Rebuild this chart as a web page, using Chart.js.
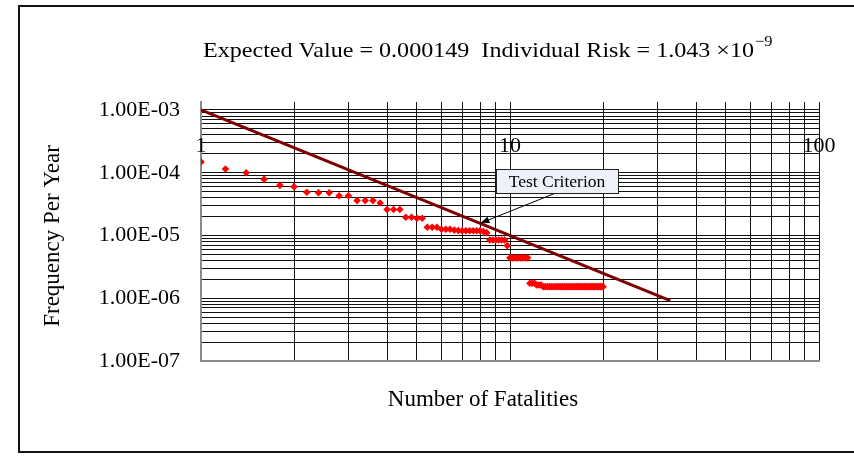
<!DOCTYPE html>
<html>
<head>
<meta charset="utf-8">
<script src="https://cdn.jsdelivr.net/npm/chart.js@4/dist/chart.umd.min.js"></script>
<style>
  html, body { margin: 0; padding: 0; background: #fff; }
  #wrap { width: 854px; height: 457px; }
</style>
</head>
<body>
<div id="wrap"><canvas id="c" width="854" height="457"></canvas></div>
<script>
// number of fatalities (N) for each plotted point
const fatalities = [
  1, 1.2, 1.4, 1.6, 1.8, 2, 2.2, 2.4, 2.6, 2.8,
  3, 3.2, 3.4, 3.6, 3.8, 4, 4.2, 4.4, 4.6, 4.8,
  5, 5.2, 5.4, 5.6, 5.8, 6, 6.2, 6.4, 6.6, 6.8,
  7, 7.2, 7.4, 7.6, 7.8, 8, 8.2, 8.4, 8.6, 8.8,
  9, 9.2, 9.4, 9.6, 9.8, 10, 10.2, 10.4, 10.6, 10.8,
  11, 11.2, 11.4, 11.6, 11.8, 12, 12.2, 12.4, 12.6, 12.8,
  13, 13.2, 13.4, 13.6, 13.8, 14, 14.2, 14.4, 14.6, 14.8,
  15, 15.2, 15.4, 15.6, 15.8, 16, 16.2, 16.4, 16.6, 16.8,
  17, 17.2, 17.4, 17.6, 17.8, 18, 18.2, 18.4, 18.6, 18.8,
  19, 19.2, 19.4, 19.6, 19.8, 20
];

// cumulative frequency per year (F)
const frequency = [
  1.49e-4, 1.15e-4, 1.0e-4, 7.9e-5, 6.3e-5, 6.0e-5, 4.9e-5, 4.8e-5, 4.8e-5, 4.3e-5,
  4.3e-5, 3.6e-5, 3.6e-5, 3.6e-5, 3.3e-5, 2.6e-5, 2.6e-5, 2.6e-5, 1.95e-5, 1.95e-5,
  1.88e-5, 1.88e-5, 1.35e-5, 1.35e-5, 1.35e-5, 1.26e-5, 1.26e-5, 1.26e-5, 1.22e-5, 1.2e-5,
  1.19e-5, 1.19e-5, 1.19e-5, 1.19e-5, 1.19e-5, 1.19e-5, 1.16e-5, 1.11e-5, 8.5e-6, 8.5e-6,
  8.5e-6, 8.5e-6, 8.5e-6, 8.5e-6, 6.9e-6, 4.4e-6, 4.4e-6, 4.4e-6, 4.4e-6, 4.4e-6,
  4.4e-6, 4.4e-6, 4.4e-6, 1.73e-6, 1.73e-6, 1.73e-6, 1.63e-6, 1.63e-6, 1.63e-6, 1.53e-6,
  1.53e-6, 1.53e-6, 1.53e-6, 1.53e-6, 1.53e-6, 1.53e-6, 1.53e-6, 1.53e-6, 1.53e-6, 1.53e-6,
  1.53e-6, 1.53e-6, 1.53e-6, 1.53e-6, 1.53e-6, 1.53e-6, 1.53e-6, 1.53e-6, 1.53e-6, 1.53e-6,
  1.53e-6, 1.53e-6, 1.53e-6, 1.53e-6, 1.53e-6, 1.53e-6, 1.53e-6, 1.53e-6, 1.53e-6, 1.53e-6,
  1.53e-6, 1.53e-6, 1.53e-6, 1.53e-6, 1.53e-6, 1.53e-6
];

// test criterion line end points
const criterionN = [1, 33];
const criterionF = [1e-3, 9.2e-7];

const xTickValues = [1, 10, 100];
const xTickLabels = ['1', '10', '100'];
const yTickValues = [1e-7, 1e-6, 1e-5, 1e-4, 1e-3];
const yTickLabels = ['1.00E-07', '1.00E-06', '1.00E-05', '1.00E-04', '1.00E-03'];

const titleText = 'Expected Value = 0.000149  Individual Risk = 1.043 \u00d710';
const titleSup = '\u22129';
const xTitle = 'Number of Fatalities';
const yTitle = 'Frequency Per Year';
const calloutText = 'Test Criterion';
const calloutBox = { x: 14.2, y: 7.3e-5 };
const calloutTip = { x: 8, y: 1.5625e-5 };

const SERIF = '"Liberation Serif", "Times New Roman", serif';

function logGrid(from, to) {
  const out = [];
  for (let d = from; d < to * 0.999; d *= 10) {
    for (let k = 1; k < 10; k++) out.push({ value: d * k });
  }
  out.push({ value: to });
  return out;
}

const frame = {
  id: 'frame',
  beforeDraw(chart) {
    const ctx = chart.ctx;
    ctx.save();
    ctx.fillStyle = '#fff';
    ctx.fillRect(0, 0, chart.width, chart.height);
    ctx.strokeStyle = '#111';
    ctx.lineWidth = 2;
    ctx.strokeRect(19, 6, 900, 446);
    ctx.restore();
  },
  afterDraw(chart) {
    const ctx = chart.ctx;
    const xs = chart.scales.x, ys = chart.scales.y;
    ctx.save();
    ctx.fillStyle = '#000';

    // title, stretched a little wider like the original, with superscript exponent
    ctx.font = '22px ' + SERIF;
    ctx.textBaseline = 'alphabetic';
    ctx.textAlign = 'left';
    const w = ctx.measureText(titleText).width;
    const sx = 551 / w;
    ctx.save();
    ctx.translate(203, 57);
    ctx.scale(sx, 1);
    ctx.fillText(titleText, 0, 0);
    ctx.font = '15px ' + SERIF;
    ctx.fillText(titleSup, w + 1, -11);
    ctx.restore();

    // axis titles
    ctx.font = '23px ' + SERIF;
    ctx.textAlign = 'center';
    ctx.textBaseline = 'middle';
    ctx.fillText(xTitle, 483, 400);
    ctx.save();
    ctx.translate(53, 236);
    ctx.rotate(-Math.PI / 2);
    ctx.fillText(yTitle, 0, 0);
    ctx.restore();

    // x tick labels sit inside the plot, Excel style
    ctx.font = '22px ' + SERIF;
    xTickValues.forEach((v, i) => {
      ctx.fillText(xTickLabels[i], xs.getPixelForValue(v), chart.chartArea.top + 44);
    });

    // callout
    const bx = xs.getPixelForValue(calloutBox.x), by = ys.getPixelForValue(calloutBox.y);
    const tx = xs.getPixelForValue(calloutTip.x), ty = ys.getPixelForValue(calloutTip.y);
    const bw = 122, bh = 24;
    const ax = bx - 2, ay = by + bh / 2;
    ctx.strokeStyle = '#000';
    ctx.lineWidth = 1;
    const ang = Math.atan2(ty - ay, tx - ax);
    const hl = 10;
    ctx.beginPath();
    ctx.moveTo(ax, ay);
    ctx.lineTo(tx - hl * Math.cos(ang) * 0.8, ty - hl * Math.sin(ang) * 0.8);
    ctx.stroke();
    ctx.beginPath();
    ctx.moveTo(tx, ty);
    ctx.lineTo(tx - hl * Math.cos(ang - 0.35), ty - hl * Math.sin(ang - 0.35));
    ctx.lineTo(tx - hl * Math.cos(ang + 0.35), ty - hl * Math.sin(ang + 0.35));
    ctx.closePath();
    ctx.fill();

    ctx.fillStyle = '#eef1f9';
    ctx.fillRect(bx - bw / 2, by - bh / 2, bw, bh);
    ctx.strokeStyle = '#222';
    ctx.strokeRect(Math.round(bx - bw / 2) + 0.5, Math.round(by - bh / 2) + 0.5, bw, bh);
    ctx.fillStyle = '#000';
    ctx.font = '17.5px ' + SERIF;
    ctx.fillText(calloutText, bx, by + 1);
    ctx.restore();
  }
};

new Chart(document.getElementById('c'), {
  type: 'scatter',
  data: {
    datasets: [
      {
        label: 'F-N curve',
        data: fatalities.map((n, i) => ({ x: n, y: frequency[i] })),
        backgroundColor: '#ff0000',
        borderColor: '#ff0000',
        pointStyle: 'rectRot',
        pointRadius: 3.8,
        borderWidth: 0
      },
      {
        label: 'Test Criterion',
        data: criterionN.map((n, i) => ({ x: n, y: criterionF[i] })),
        showLine: true,
        borderColor: '#7f0000',
        borderWidth: 3,
        pointRadius: 0
      }
    ]
  },
  options: {
    responsive: false,
    animation: false,
    devicePixelRatio: 1,
    layout: { padding: { left: 18, right: 35, top: 102, bottom: 0 } },
    plugins: {
      legend: { display: false },
      tooltip: { enabled: false }
    },
    scales: {
      x: {
        type: 'logarithmic',
        min: 1,
        max: 100,
        afterBuildTicks(scale) { scale.ticks = logGrid(1, 100); },
        afterFit(scale) { scale.height = 96; },
        ticks: { display: false },
        grid: { color: '#111', lineWidth: 1, drawTicks: false },
        border: { color: '#8a8a8a', width: 2 }
      },
      y: {
        type: 'logarithmic',
        min: 1e-7,
        max: 1.341e-3,
        afterBuildTicks(scale) { scale.ticks = logGrid(1e-7, 1e-3); },
        afterFit(scale) { scale.width = 183; },
        ticks: {
          autoSkip: false,
          padding: 21,
          color: '#000',
          font: { family: SERIF, size: 22 },
          callback(value) {
            const i = yTickValues.findIndex(v => Math.abs(Math.log10(v) - Math.log10(value)) < 1e-6);
            return i >= 0 ? yTickLabels[i] : '';
          }
        },
        grid: { color: '#111', lineWidth: 1, drawTicks: false },
        border: { color: '#8a8a8a', width: 2 }
      }
    }
  },
  plugins: [frame]
});
</script>
</body>
</html>
